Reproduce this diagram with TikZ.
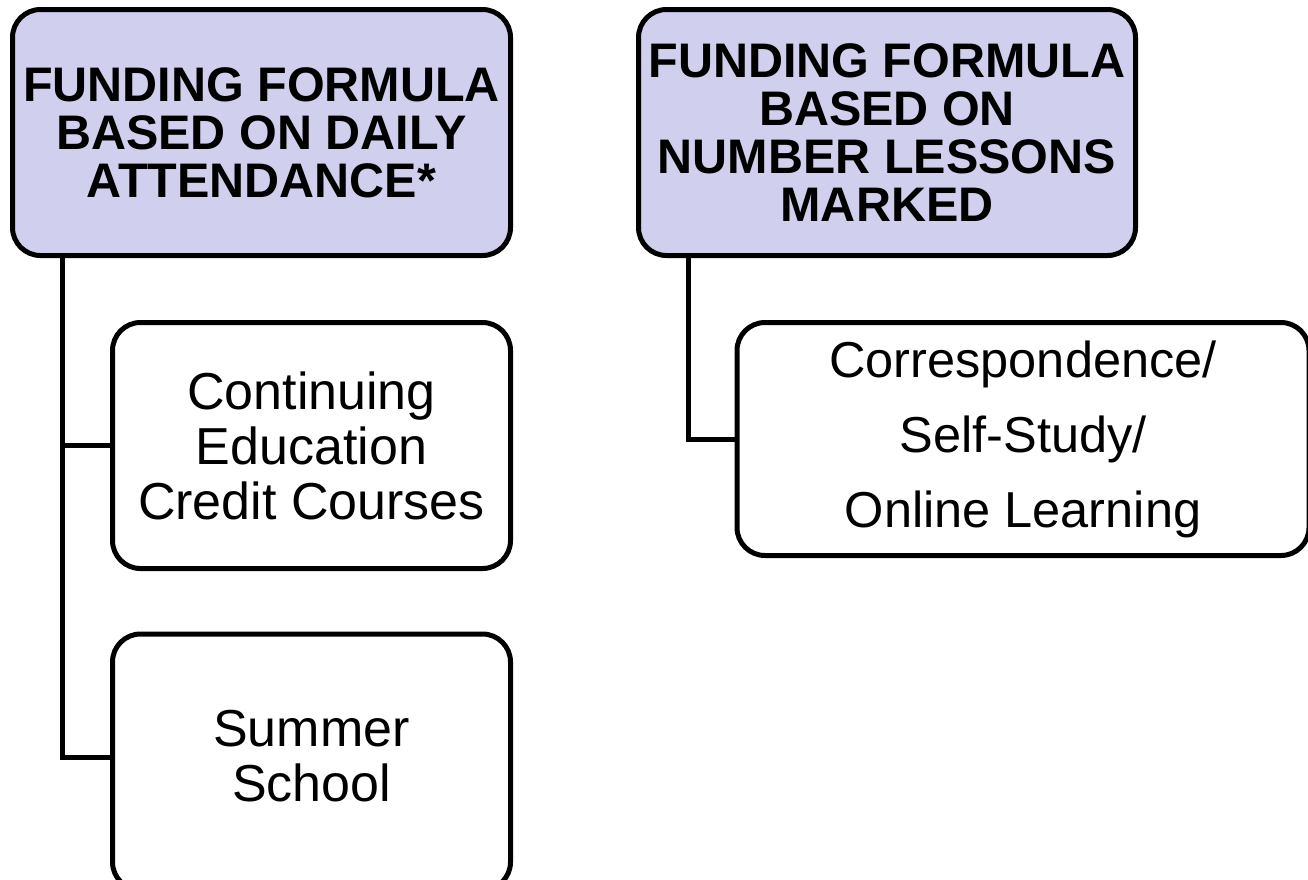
\documentclass[tikz,border=0pt]{standalone}
\usepackage{fontspec}
\setmainfont{Liberation Sans}
\definecolor{headfill}{RGB}{208,208,238}
\begin{document}
\begin{tikzpicture}[x=1pt,y=-1pt,
  box/.style={draw=black,line width=5pt,rounded corners=28pt,inner sep=0pt,align=center,text=black},
  headbox/.style={box,fill=headfill,font=\bfseries\fontsize{48.5}{48}\selectfont},
  itembox/.style={box,fill=white,font=\fontsize{52}{55}\selectfont},
  link/.style={draw=black,line width=5pt}]
\useasboundingbox (0,0) rectangle (1308,879);
\clip (0,0) rectangle (1308,879);
\node[headbox,minimum width=498pt,minimum height=246pt] (h1) at (261.5,132.5) {FUNDING FORMULA\\BASED ON DAILY\\ATTENDANCE*};
\node[headbox,minimum width=497pt,minimum height=246pt] (h2) at (887,132.5) {FUNDING FORMULA\\BASED ON\\NUMBER LESSONS\\MARKED};
\node[itembox,minimum width=398pt,minimum height=246pt] (c1) at (311.5,445.5) {Continuing\\Education\\Credit Courses};
\node[itembox,minimum width=398pt,minimum height=256pt] (c2) at (311.5,762) {Summer\\School\rule[-13pt]{0pt}{0pt}};
\coordinate (c2mid) at (0,757);
\node[itembox,minimum width=572pt,minimum height=233pt,font=\fontsize{50.5}{75}\selectfont] (c3) at (1023,439) {Correspondence/\\Self-Study/\\Online Learning};
\coordinate (trunkL) at (62,0);
\coordinate (trunkR) at (688,0);
\draw[link] (h1.south -| trunkL) |- (c1.west);
\draw[link] (h1.south -| trunkL) |- (c2.west |- c2mid);
\draw[link] (h2.south -| trunkR) |- (c3.west);
\end{tikzpicture}
\end{document}
